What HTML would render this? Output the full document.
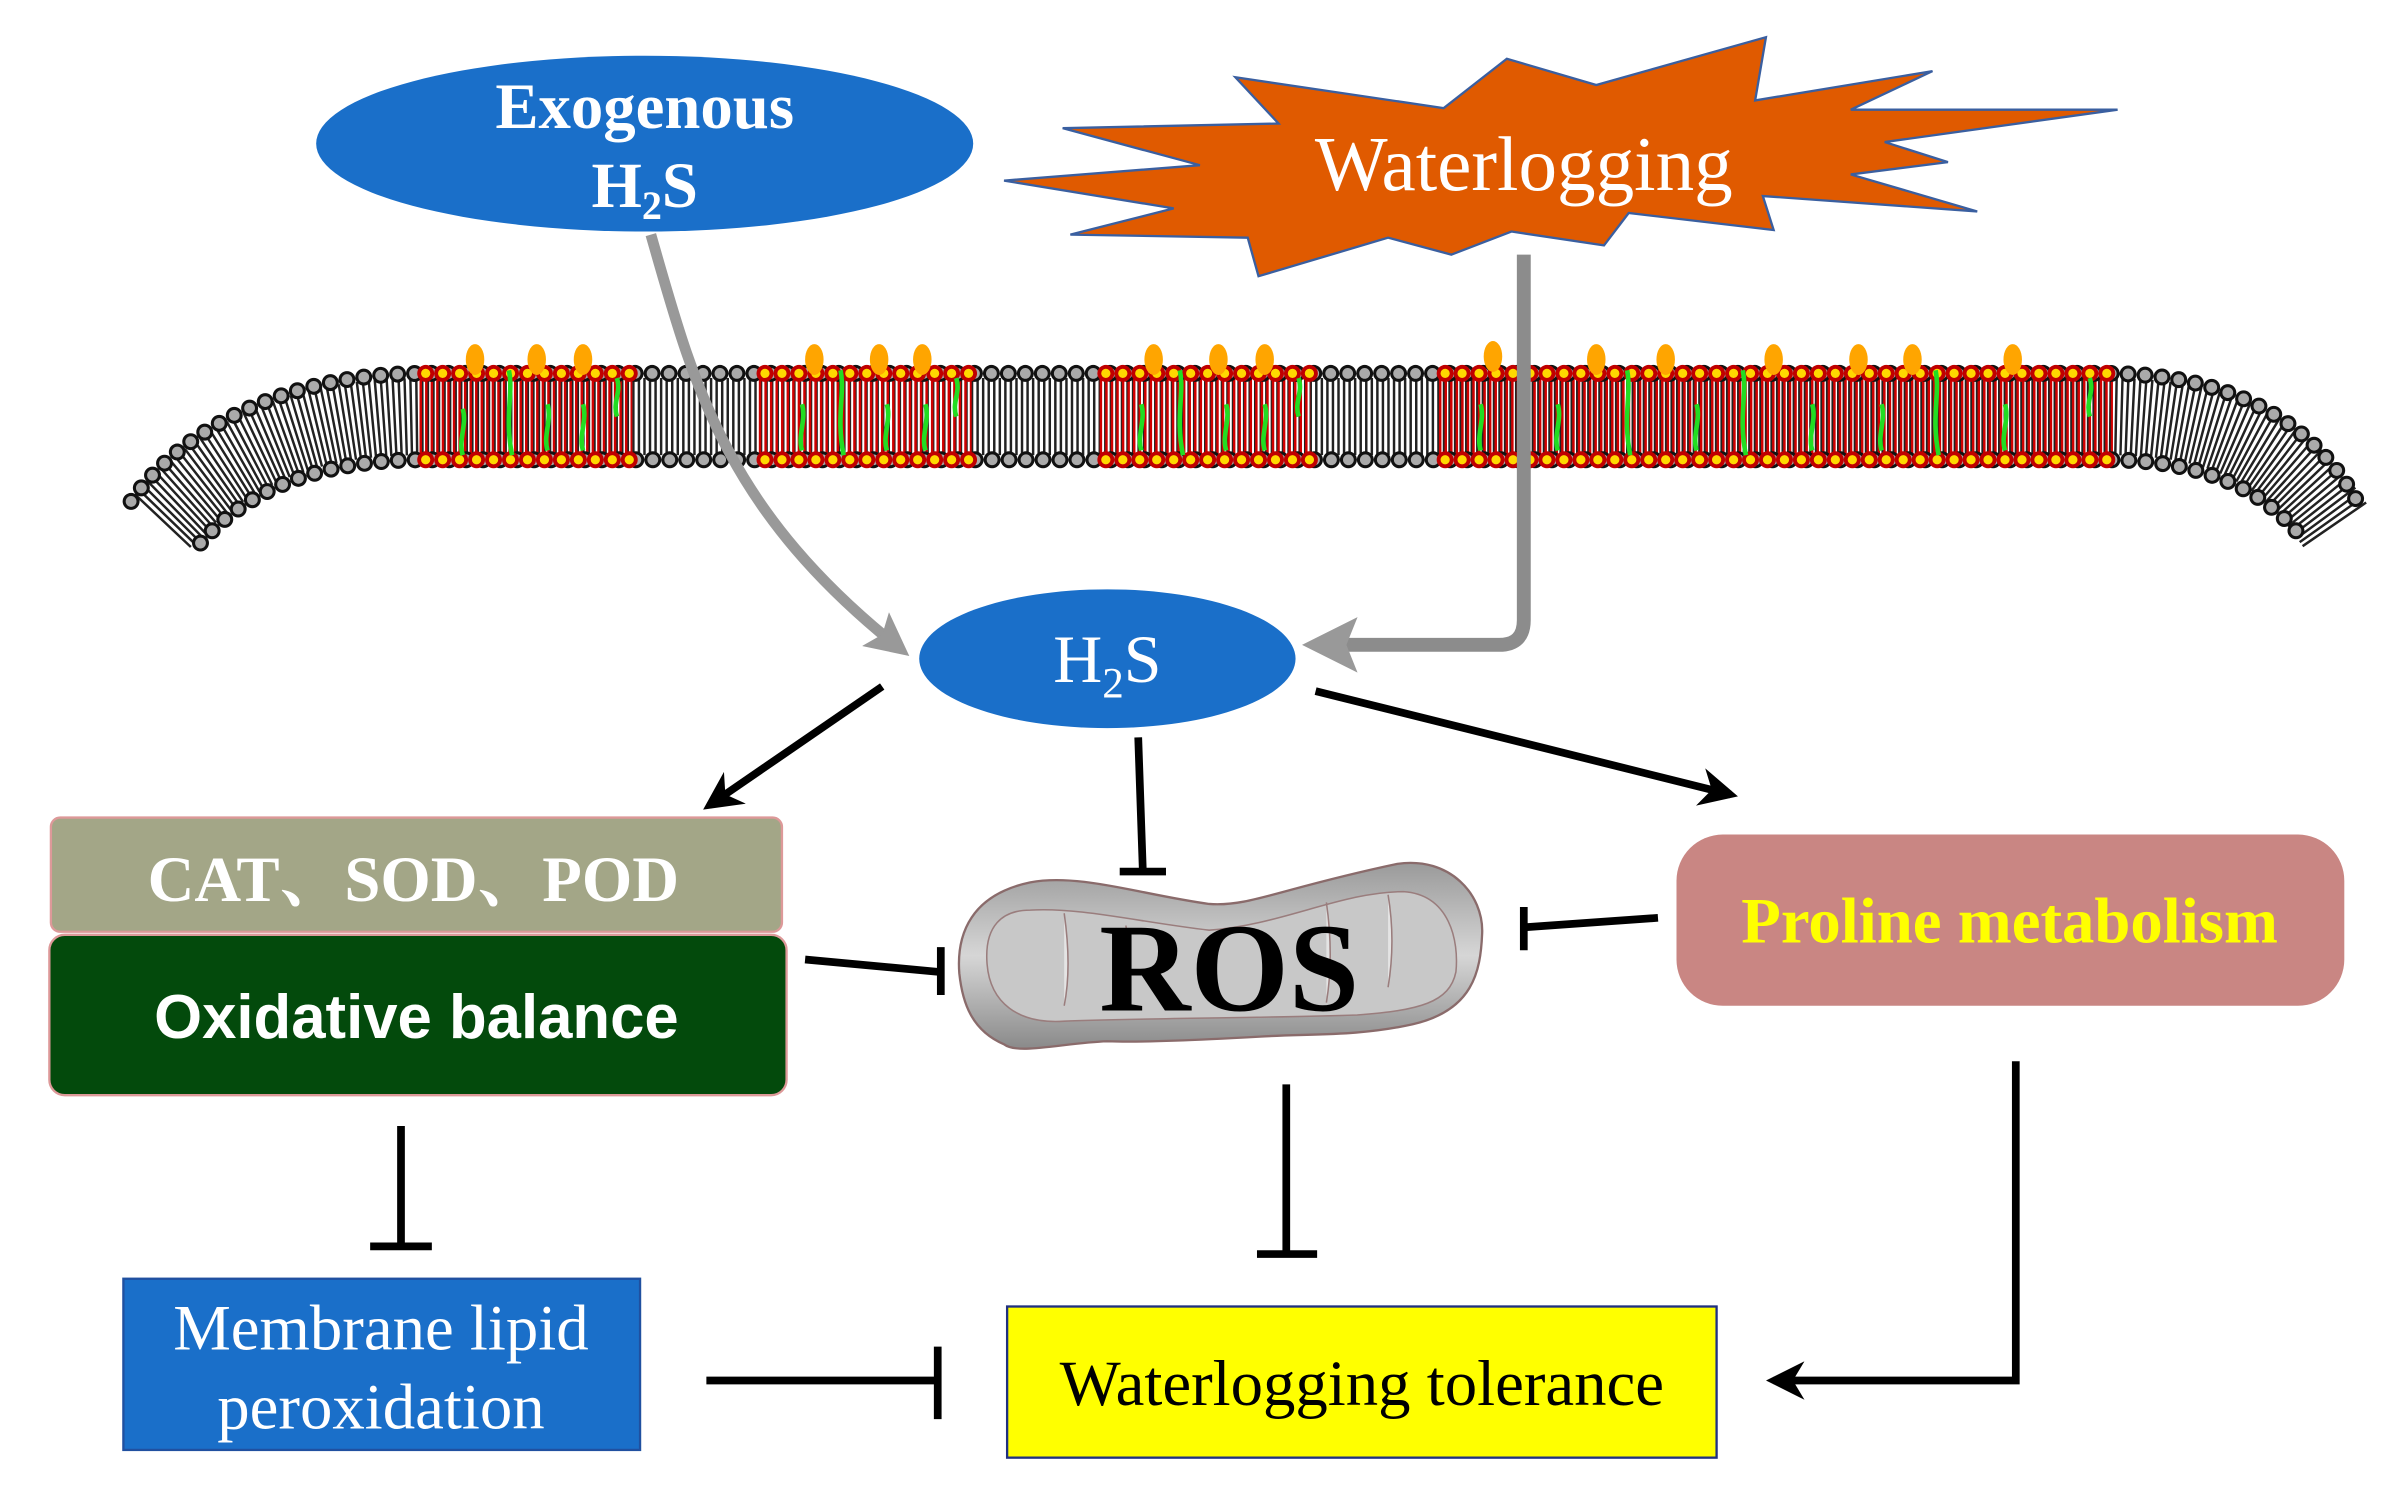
<!DOCTYPE html>
<html><head><meta charset="utf-8"><style>
html,body{margin:0;padding:0;background:#fff;}
svg{display:block;}
</style></head><body>
<svg width="2406" height="1501" viewBox="0 0 1560 973" xmlns="http://www.w3.org/2000/svg">
<defs>
<marker id="ab" viewBox="0 0 10 10" refX="8" refY="5" markerWidth="5" markerHeight="5" orient="auto"><path d="M0,0L10,5L0,10L3,5z" fill="#000"/></marker>
<marker id="ag" viewBox="0 0 10 10" refX="7" refY="5" markerWidth="4" markerHeight="4" orient="auto"><path d="M0,0L10,5L0,10L2,5z" fill="#999"/></marker>
<linearGradient id="mg" x1="0" y1="0" x2="0" y2="1"><stop offset="0" stop-color="#9a9a9a"/><stop offset="0.5" stop-color="#d6d6d6"/><stop offset="1" stop-color="#8a8a8a"/></linearGradient>
</defs>

<ellipse cx="418" cy="93" rx="213" ry="57" fill="#1a6fc9"/>
<text x="418" y="83" font-family="Liberation Serif,serif" font-weight="bold" font-size="42" fill="#fff" text-anchor="middle">Exogenous</text>
<text x="418" y="134" font-family="Liberation Serif,serif" font-weight="bold" font-size="42" fill="#fff" text-anchor="middle">H<tspan font-size="26" dy="8">2</tspan><tspan dy="-8">S</tspan></text>

<polygon points="651,117 778,107 689,83 829,80 801,50 936,70 977,38 1035,55 1145,24 1138,65 1253,46 1200,71 1373,71 1222,92 1263,105 1200,113 1282,137 1143,127 1150,149 1056,138 1040,159 980,150 941,165 900,154 816,179 809,154 694,152 761,135" fill="#e05a00" stroke="#3a5fa0" stroke-width="1.5"/>
<text x="988" y="123" font-family="Liberation Serif,serif" font-size="50" fill="#fff" text-anchor="middle">Waterlogging</text>

<g fill="none">
<path d="M105,338 C150,290 200,270 275,270 L1365,270 C1440,270 1480,290 1515,342" stroke="#222" stroke-width="50" stroke-dasharray="1.6 2"/>
<g stroke="#d00000" stroke-width="50" stroke-dasharray="1.6 2">
<path d="M272,270H410"/><path d="M492,270H630"/><path d="M713,270H850"/><path d="M933,270H1370"/>
</g>
<path d="M85,325 C120,275 190,242 275,242 L1365,242 C1445,242 1500,272 1530,328" stroke="#111" stroke-width="11" stroke-linecap="round" stroke-dasharray="0 11"/>
<path d="M85,325 C120,275 190,242 275,242 L1365,242 C1445,242 1500,272 1530,328" stroke="#aaa" stroke-width="7" stroke-linecap="round" stroke-dasharray="0 11"/>
<path d="M130,352 C160,318 205,298 275,298 L1365,298 C1430,298 1470,318 1495,352" stroke="#111" stroke-width="11" stroke-linecap="round" stroke-dasharray="0 11"/>
<path d="M130,352 C160,318 205,298 275,298 L1365,298 C1430,298 1470,318 1495,352" stroke="#aaa" stroke-width="7" stroke-linecap="round" stroke-dasharray="0 11"/>
<g stroke-linecap="round" stroke-dasharray="0 11">
<g stroke="#c00000" stroke-width="11"><path d="M276,242H410M496,242H630M717,242H850M937,242H1368M276,298H410M496,298H630M717,298H850M937,298H1368"/></g>
<g stroke="#ffd800" stroke-width="6"><path d="M276,242H410M496,242H630M717,242H850M937,242H1368M276,298H410M496,298H630M717,298H850M937,298H1368"/></g>
</g>
<g stroke="#22dd22" stroke-width="3">
<path d="M300,265c3,10 -3,20 0,30M330,240c3,15 -3,30 2,55M355,262c3,10 -3,20 0,30M378,262c3,10 -3,20 0,30M400,245c3,10 -3,15 0,25"/>
<path d="M520,262c3,10 -3,20 0,30M545,240c3,15 -3,30 2,55M575,262c3,10 -3,20 0,30M600,262c3,10 -3,20 0,30M620,245c3,10 -3,15 0,25"/>
<path d="M740,262c3,10 -3,20 0,30M765,240c3,15 -3,30 2,55M795,262c3,10 -3,20 0,30M820,262c3,10 -3,20 0,30M842,245c3,10 -3,15 0,25"/>
<path d="M960,262c3,10 -3,20 0,30M1010,262c3,10 -3,20 0,30M1055,240c3,15 -3,30 2,55M1100,262c3,10 -3,20 0,30M1130,240c3,15 -3,30 2,55M1175,262c3,10 -3,20 0,30M1220,262c3,10 -3,20 0,30M1255,240c3,15 -3,30 2,55M1300,262c3,10 -3,20 0,30M1355,245c3,10 -3,15 0,25"/>
</g>
</g>
<g fill="#ffa500">
<ellipse cx="308" cy="233" rx="6" ry="10"/><ellipse cx="348" cy="233" rx="6" ry="10"/><ellipse cx="378" cy="233" rx="6" ry="10"/>
<ellipse cx="528" cy="233" rx="6" ry="10"/><ellipse cx="570" cy="233" rx="6" ry="10"/><ellipse cx="598" cy="233" rx="6" ry="10"/>
<ellipse cx="748" cy="233" rx="6" ry="10"/><ellipse cx="790" cy="233" rx="6" ry="10"/><ellipse cx="820" cy="233" rx="6" ry="10"/>
<ellipse cx="968" cy="231" rx="6" ry="10"/><ellipse cx="1035" cy="233" rx="6" ry="10"/><ellipse cx="1080" cy="233" rx="6" ry="10"/><ellipse cx="1150" cy="233" rx="6" ry="10"/><ellipse cx="1205" cy="233" rx="6" ry="10"/><ellipse cx="1240" cy="233" rx="6" ry="10"/><ellipse cx="1305" cy="233" rx="6" ry="10"/>
</g>

<path d="M422,152 C450,250 470,330 583,420" fill="none" stroke="#999" stroke-width="7" marker-end="url(#ag)"/>
<path d="M988,165 V402 Q988,418 972,418 H855" fill="none" stroke="#8c8c8c" stroke-width="9" marker-end="url(#ag)"/>

<ellipse cx="718" cy="427" rx="122" ry="45" fill="#1a6fc9"/>
<text x="718" y="442" font-family="Liberation Serif,serif" font-size="44" fill="#fff" text-anchor="middle">H<tspan font-size="28" dy="10">2</tspan><tspan dy="-10">S</tspan></text>

<g stroke="#000" stroke-width="5" fill="none">
<path d="M572,445 L460,522" marker-end="url(#ab)"/>
<path d="M853,448 L1122,515" marker-end="url(#ab)"/>
<path d="M738,478 L741,565 M726,565H756"/>
<path d="M522,622 L608,630 M610,614V645"/>
<path d="M1075,595 L990,601 M988,588V616"/>
<path d="M260,730V808 M240,808H280"/>
<path d="M834,703V812 M815,813H854"/>
<path d="M1307,688 V895 H1150" marker-end="url(#ab)"/>
<path d="M458,895H606 M608,873V920"/>
</g>

<rect x="33" y="530" width="474" height="74" rx="6" fill="#a3a687" stroke="#d99" stroke-width="1.5"/>
<text x="268" y="584" font-family="Liberation Serif,'Noto Serif CJK SC',serif" font-weight="bold" font-size="42" fill="#fff" text-anchor="middle">CAT、SOD、POD</text>
<rect x="32" y="606" width="478" height="104" rx="10" fill="#034a0c" stroke="#d99" stroke-width="1.5"/>
<text x="270" y="673" font-family="Liberation Sans,sans-serif" font-weight="bold" font-size="40" fill="#fff" text-anchor="middle">Oxidative balance</text>

<path d="M622,631 C620,605 630,580 668,572 C700,566 740,580 784,586 C810,588 830,576 906,560 C940,555 962,580 961,605 C960,630 955,655 916,664 C880,672 850,670 817,672 C780,674 740,676 718,675 C690,676 660,684 651,677 C630,668 624,650 622,631Z" fill="url(#mg)" stroke="#8a6b6b" stroke-width="1.5"/>
<path d="M640,625 C638,600 650,590 668,590 C700,588 740,598 784,603 C830,600 870,578 910,578 C940,580 946,610 944,630 C940,650 920,655 880,658 C820,660 740,660 690,662 C660,664 642,650 640,625Z" fill="#c8c8c8" stroke="#9a7d7d" stroke-width="1"/>
<g stroke="#9a7d7d" stroke-width="1" fill="#e4e4e4"><path d="M690,592 q5,35 0,60"/><path d="M730,600 q5,30 0,55"/><path d="M860,585 q5,35 0,65"/><path d="M900,580 q5,30 0,60"/></g>
<text x="797" y="655" font-family="Liberation Serif,serif" font-weight="bold" font-size="82" fill="#000" text-anchor="middle">ROS</text>

<rect x="1087" y="541" width="433" height="111" rx="30" fill="#c98683"/>
<text x="1303" y="611" font-family="Liberation Serif,serif" font-weight="bold" font-size="42" fill="#ffff00" text-anchor="middle">Proline metabolism</text>

<rect x="80" y="829" width="335" height="111" fill="#1a6fc9" stroke="#2050a0" stroke-width="1.5"/>
<text x="247" y="875" font-family="Liberation Serif,serif" font-size="42" fill="#fff" text-anchor="middle">Membrane lipid</text>
<text x="247" y="926" font-family="Liberation Serif,serif" font-size="42" fill="#fff" text-anchor="middle">peroxidation</text>

<rect x="653" y="847" width="460" height="98" fill="#ffff00" stroke="#203080" stroke-width="1.5"/>
<text x="883" y="911" font-family="Liberation Serif,serif" font-size="42" fill="#000" text-anchor="middle">Waterlogging tolerance</text>
</svg>
</body></html>
